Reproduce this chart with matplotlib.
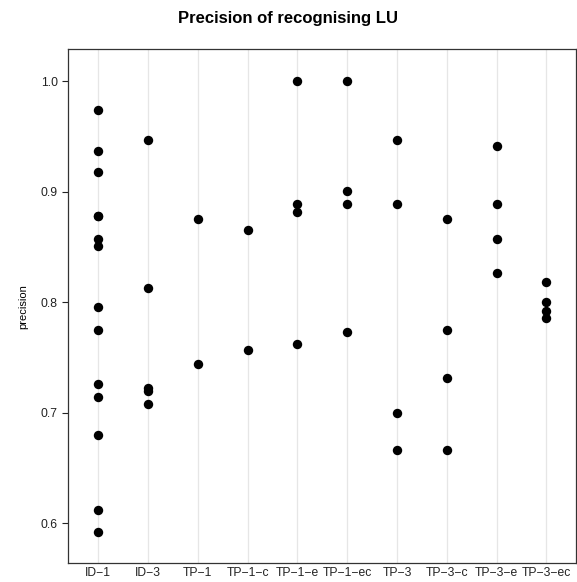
import matplotlib
matplotlib.use('Agg')
import matplotlib.pyplot as plt

plt.rcParams['font.family'] = ['Liberation Sans', 'DejaVu Sans']

categories = ["ID\u22121", "ID\u22123", "TP\u22121", "TP\u22121\u2212c", "TP\u22121\u2212e",
              "TP\u22121\u2212ec", "TP\u22123", "TP\u22123\u2212c", "TP\u22123\u2212e", "TP\u22123\u2212ec"]

id_1 = [0.974, 0.937, 0.918, 0.878, 0.878, 0.857, 0.851, 0.796, 0.775, 0.7255, 0.714, 0.680, 0.612, 0.5915]
id_3 = [0.947, 0.8125, 0.722, 0.720, 0.708]
tp_1 = [0.875, 0.7437]
tp_1_c = [0.865, 0.7563]
tp_1_e = [1.0, 0.8886, 0.882, 0.762]
tp_1_ec = [1.0, 0.9004, 0.8886, 0.7726]
tp_3 = [0.947, 0.8886, 0.700, 0.6663]
tp_3_c = [0.875, 0.7745, 0.731, 0.6663]
tp_3_e = [0.941, 0.8886, 0.857, 0.826]
tp_3_ec = [0.818, 0.800, 0.792, 0.786]

series = [id_1, id_3, tp_1, tp_1_c, tp_1_e, tp_1_ec, tp_3, tp_3_c, tp_3_e, tp_3_ec]

fig = plt.figure(figsize=(5.77, 5.82), dpi=100)
ax = fig.add_axes([0.1184, 0.0321, 0.8804, 0.8832])

for i, vals in enumerate(series, start=1):
    ax.axvline(i, color="#e6e6e6", linewidth=0.9, zorder=0)
    ax.scatter([i] * len(vals), vals, s=46, color="black", zorder=3, linewidths=0)

ax.set_xlim(0.4, 10.6)
ax.set_ylim(0.5635, 1.029)
ax.set_xticks(range(1, len(categories) + 1))
ax.set_xticklabels(categories)
ax.set_yticks([0.6, 0.7, 0.8, 0.9, 1.0])
ax.set_yticklabels(["0.6", "0.7", "0.8", "0.9", "1.0"])
ax.tick_params(axis='x', length=0, labelsize=8.7, pad=3, colors="#222222")
ax.tick_params(axis='y', length=4, width=0.8, labelsize=8.7, colors="#222222", direction='out')

for spine in ax.spines.values():
    spine.set_color("#333333")
    spine.set_linewidth(0.9)

ax.set_ylabel("precision", fontsize=8, labelpad=9)
fig.suptitle("Precision of recognising LU", fontsize=12, fontweight='bold', y=0.981)

plt.savefig("out.png", dpi=100)
plt.close(fig)
